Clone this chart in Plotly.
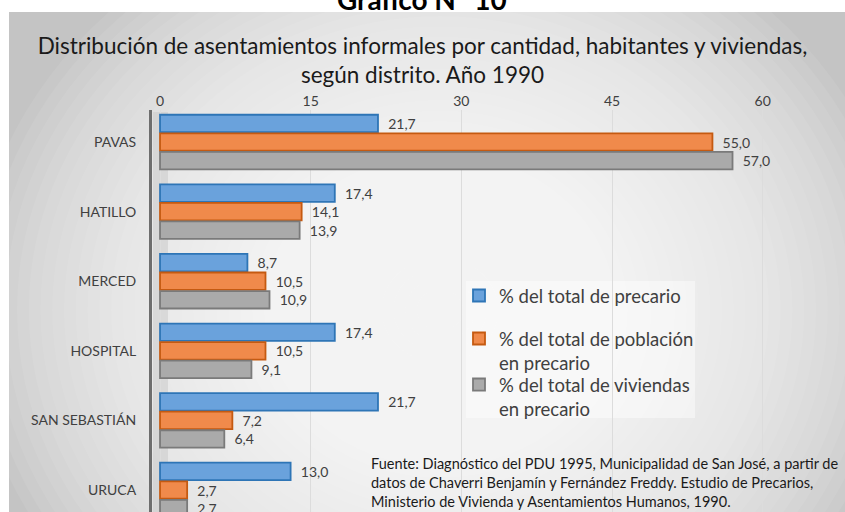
import plotly.graph_objects as go

# ---- data ----
districts = ["PAVAS", "HATILLO", "MERCED", "HOSPITAL", "SAN SEBASTIÁN", "URUCA"]
pct_precario = [21.7, 17.4, 8.7, 17.4, 21.7, 13.0]
pct_poblacion = [55.0, 14.1, 10.5, 10.5, 7.2, 2.7]
pct_viviendas = [57.0, 13.9, 10.9, 9.1, 6.4, 2.7]
series_names = ["% del total de precario",
                "% del total de población<br>en precario",
                "% del total de viviendas<br>en precario"]
x_ticks = [0, 15, 30, 45, 60]

W, H = 845, 512
ML, MR, MT, MB = 152, 2, 110, 0
PW, PH = W - ML - MR, H - MT - MB

def px(xp):
    return (xp - ML) / PW

def py(yp):
    return (H - MB - yp) / PH

FONT = "Lato"
TXT = "#404040"

fills = ["#6aa2dc", "#f08a4b", "#aaaaaa"]
edges = ["#2e75b6", "#c55a11", "#7a7a7a"]
legend_ids = ["legend", "legend2", "legend3"]
legend_tops = [277, 320, 366]

def fmt(v):
    return "\u00a0\u00a0" + f"{v:.1f}".replace(".", ",")

fig = go.Figure()
for name, vals, fc, ec, lg in zip(series_names, [pct_precario, pct_poblacion, pct_viviendas], fills, edges, legend_ids):
    fig.add_trace(go.Bar(
        y=districts, x=vals, name=name, orientation="h",
        marker=dict(color=fc, line=dict(color=ec, width=1.8)),
        text=[fmt(v) for v in vals], textposition="outside",
        textfont=dict(family=FONT, size=14, color=TXT),
        cliponaxis=False, legend=lg,
    ))

# background gradient (decorative)
shapes = []
shapes.append(dict(type="rect", xref="paper", yref="paper",
                   x0=px(9), x1=px(845), y0=py(512), y1=py(12),
                   fillcolor="#c4c4c4", line=dict(width=0), layer="below"))
cx, cy, Rx, Ry, N = 440, 310, 470, 420, 40
for i in range(N):
    f = 1 - i / N
    shapes.append(dict(type="circle", xref="paper", yref="paper",
                       x0=px(cx - Rx * f), x1=px(cx + Rx * f),
                       y0=py(cy + Ry * f), y1=py(cy - Ry * f),
                       fillcolor="rgba(255,255,255,0.075)", line=dict(width=0), layer="below"))
# white surround
shapes.append(dict(type="rect", xref="paper", yref="paper",
                   x0=px(-50), x1=px(900), y0=py(12), y1=py(-50),
                   fillcolor="white", line=dict(width=0), layer="below"))
shapes.append(dict(type="rect", xref="paper", yref="paper",
                   x0=px(-50), x1=px(9), y0=py(560), y1=py(12),
                   fillcolor="white", line=dict(width=0), layer="below"))
# legend box
shapes.append(dict(type="rect", xref="paper", yref="paper",
                   x0=px(466), x1=px(695), y0=py(418), y1=py(281),
                   fillcolor="rgba(255,255,255,0.45)", line=dict(width=0), layer="below"))
# side wall
shapes.append(dict(type="rect", xref="paper", yref="paper",
                   x0=px(153), x1=px(168), y0=0, y1=py(112),
                   fillcolor="rgba(200,200,200,0.5)", line=dict(width=0), layer="below"))

legend_common = dict(xanchor="left", yanchor="top", bgcolor="rgba(0,0,0,0)",
                     font=dict(family=FONT, size=18.5, color=TXT),
                     valign="top", itemwidth=30)

fig.update_layout(
    width=W, height=H,
    margin=dict(l=ML, r=MR, t=MT, b=MB, pad=0),
    paper_bgcolor="white", plot_bgcolor="rgba(0,0,0,0)",
    font=dict(family=FONT, color=TXT),
    barmode="group", bargap=0.2, bargroupgap=0.06,
    shapes=shapes,
    title=dict(text="Distribución de asentamientos informales por cantidad, habitantes y viviendas,<br>según distrito. Año 1990",
               x=0.5, xref="container", xanchor="center",
               y=1 - 54 / H, yref="container", yanchor="middle",
               font=dict(family=FONT, size=22.5, color="#1a1a1a")),
    xaxis=dict(side="top", range=[-0.8, 68], tickvals=x_ticks,
               showgrid=True, gridcolor="#dcdcdc", gridwidth=1,
               zeroline=False, showline=False, ticks="",
               tickfont=dict(family=FONT, size=14, color=TXT)),
    yaxis=dict(type="category", range=[5.316, -0.46],
               showline=True, linecolor="#6e6e6e", linewidth=3,
               showgrid=False, ticks="", ticklabelstandoff=10,
               tickfont=dict(family=FONT, size=14, color=TXT)),
    legend=dict(x=px(459), y=py(legend_tops[0]), **legend_common),
    legend2=dict(x=px(459), y=py(legend_tops[1]), **legend_common),
    legend3=dict(x=px(459), y=py(legend_tops[2]), **legend_common),
    showlegend=True,
)

fig.add_annotation(text="<b>Gráfico N° 10</b>", xref="paper", yref="paper",
                   x=px(422), y=py(-1), xanchor="center", yanchor="middle",
                   showarrow=False, font=dict(family=FONT, size=28, color="black"))
fig.add_annotation(text="Fuente: Diagnóstico del PDU 1995, Municipalidad de San José, a partir de<br>"
                        "datos de Chaverri Benjamín y Fernández Freddy. Estudio de Precarios,<br>"
                        "Ministerio de Vivienda y Asentamientos Humanos, 1990.",
                   xref="paper", yref="paper", x=px(369), y=py(453), xanchor="left", yanchor="top",
                   align="left", showarrow=False,
                   font=dict(family=FONT, size=14.5, color="#1a1a1a"))

fig.write_html("out.html", config={"displayModeBar": False},
               post_script="document.body.style.margin='0';document.body.style.overflow='hidden';")
